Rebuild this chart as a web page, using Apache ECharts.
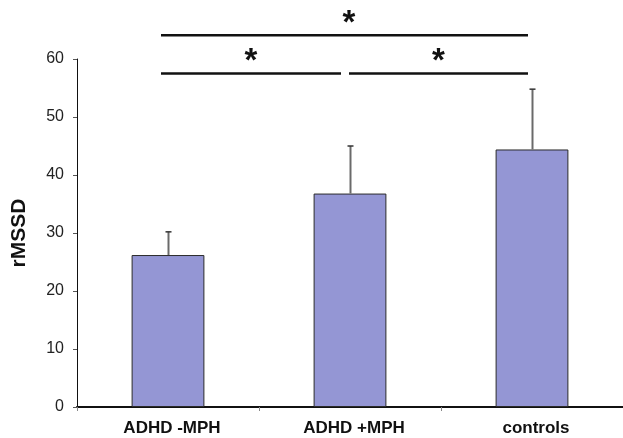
<!DOCTYPE html>
<html>
<head>
<meta charset="utf-8">
<script src="https://cdn.jsdelivr.net/npm/echarts@6/dist/echarts.min.js"></script>
<style>
html,body{margin:0;padding:0;background:#fff;}
#chart{width:623px;height:438px;}
</style>
</head>
<body>
<div id="chart"></div>
<script>
// Data
var categories = ['ADHD -MPH', 'ADHD +MPH', 'controls'];
var means = [26.2, 36.8, 44.4];
var errors = [4.0, 8.2, 10.4];
var yTicks = [0, 10, 20, 30, 40, 50, 60];
// significance brackets: [startCategory, endCategory, level(rMSSD units), label]
var bracketStart = [0, 0, 1];
var bracketEnd = [2, 1, 2];
var bracketLevel = [64.1, 57.5, 57.5];
var bracketLabel = ['*', '*', '*'];

var FONT = '"Liberation Sans", Arial, Helvetica, sans-serif';
// pixel trims of bracket ends (style only)
var trimStart = [-7, -7, -1];
var trimEnd = [-4, -9, -4];

var chart = echarts.init(document.getElementById('chart'), null, {renderer: 'canvas'});

var errData = categories.map(function (c, i) { return [i, means[i], errors[i]]; });
var brData = bracketStart.map(function (s, i) { return [s, bracketEnd[i], bracketLevel[i], i]; });

var option = {
  animation: false,
  backgroundColor: '#ffffff',
  grid: {left: 77, top: 59, width: 549, height: 348, containLabel: false},
  xAxis: {
    type: 'category',
    data: categories,
    boundaryGap: true,
    axisLine: {show: true, lineStyle: {color: '#111', width: 2}},
    axisTick: {show: true, interval: 0, alignWithLabel: false, length: 4, lineStyle: {color: '#888', width: 1}},
    axisLabel: {interval: 0, margin: 13, padding: [0, 0, 0, 8], color: '#111', fontFamily: FONT, fontWeight: 'bold', fontSize: 17},
    splitLine: {show: false}
  },
  yAxis: {
    type: 'value',
    min: yTicks[0],
    max: yTicks[yTicks.length - 1],
    interval: yTicks[1] - yTicks[0],
    name: 'rMSSD',
    nameLocation: 'middle',
    nameGap: 47,
    nameRotate: 90,
    nameTextStyle: {color: '#111', fontFamily: FONT, fontWeight: 'bold', fontSize: 21},
    axisLine: {show: true, lineStyle: {color: '#111', width: 1}},
    axisTick: {show: true, length: 4, lineStyle: {color: '#555', width: 1}},
    axisLabel: {margin: 13, color: '#222', fontFamily: FONT, fontSize: 16},
    splitLine: {show: false}
  },
  series: [
    {
      type: 'bar',
      data: means,
      barWidth: '40%',
      itemStyle: {color: '#9496D4', borderColor: '#2a2a2a', borderWidth: 1},
      z: 2
    },
    {
      type: 'custom',
      data: errData,
      z: 3,
      renderItem: function (params, api) {
        var i = api.value(0), m = api.value(1), e = api.value(2);
        var base = api.coord([i, m]);
        var top = api.coord([i, m + e]);
        var x = Math.round(base[0]) + 0.5;
        return {
          type: 'group',
          children: [
            {type: 'line', shape: {x1: x, y1: base[1], x2: x, y2: top[1]}, style: {stroke: '#6a6a6a', lineWidth: 2}},
            {type: 'line', shape: {x1: x - 3, y1: top[1], x2: x + 3, y2: top[1]}, style: {stroke: '#333', lineWidth: 1.5}}
          ]
        };
      }
    },
    {
      type: 'custom',
      data: brData,
      clip: false,
      z: 4,
      renderItem: function (params, api) {
        var s = api.value(0), e = api.value(1), lv = api.value(2), k = api.value(3);
        var p1 = api.coord([s, lv]);
        var p2 = api.coord([e, lv]);
        var x1 = p1[0] + trimStart[k], x2 = p2[0] + trimEnd[k];
        var y = p1[1];
        var cx = (x1 + x2) / 2;
        if (k === 0) cx = api.coord([1, lv])[0] - 1;
        return {
          type: 'group',
          children: [
            {type: 'line', shape: {x1: x1, y1: y, x2: x2, y2: y}, style: {stroke: '#111', lineWidth: 2.5}},
            {type: 'text', x: cx, y: y + 5, style: {text: bracketLabel[k], fill: '#111', font: 'bold 33px ' + FONT, textAlign: 'center', textVerticalAlign: 'bottom'}}
          ]
        };
      }
    }
  ]
};
chart.setOption(option);
</script>
</body>
</html>
